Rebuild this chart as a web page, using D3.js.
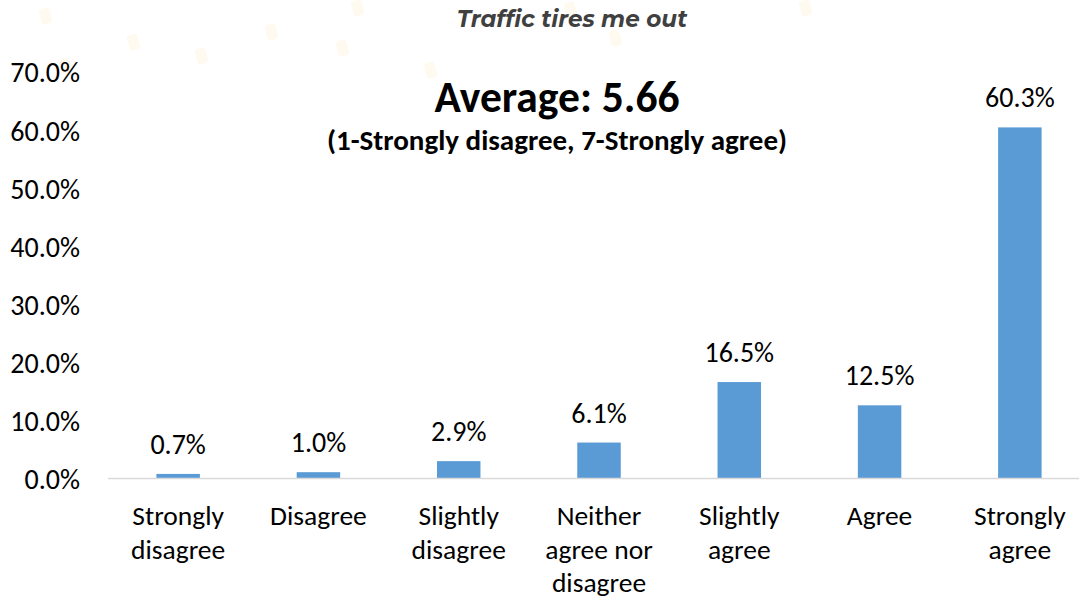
<!DOCTYPE html>
<html><head><meta charset="utf-8">
<script src="https://cdn.jsdelivr.net/npm/d3@7"></script>
<style>body{margin:0;background:#fff;}svg{display:block;}</style>
</head><body>
<svg id="c" width="1079" height="600"></svg>
<script>
const categories = [["Strongly","disagree"],["Disagree"],["Slightly","disagree"],["Neither","agree nor","disagree"],["Slightly","agree"],["Agree"],["Strongly","agree"]];
const values = [0.007, 0.010, 0.029, 0.061, 0.165, 0.125, 0.603];
const yTicks = [0, 0.1, 0.2, 0.3, 0.4, 0.5, 0.6, 0.7];
const title = "Traffic tires me out";
const avgText = "Average: 5.66";
const scaleText = "(1-Strongly disagree, 7-Strongly agree)";

const svg = d3.select("#c");
const F = "Carlito, Lato, 'Open Sans', sans-serif";

// faint decorative background dots
const deco = [[40,8],[128,34],[196,48],[266,24],[337,40],[425,62],[60,58],[352,0],[610,30],[565,2],[800,0]];
svg.selectAll("rect.deco").data(deco).enter().append("rect")
  .attr("x",d=>d[0]).attr("y",d=>d[1]).attr("width",11).attr("height",16).attr("rx",4)
  .attr("fill","#fffaf0").attr("transform",d=>`rotate(-15,${d[0]+6},${d[1]+8})`);

const x = d3.scaleBand().domain(d3.range(values.length)).range([108,1090]).paddingInner(0.69).paddingOuter(0.345);
const y = d3.scaleLinear().domain([0,0.7]).range([478,71]);

// y axis labels
const yAxis = d3.axisLeft(y).tickValues(yTicks).tickFormat(d3.format(".1%")).tickSize(0).tickPadding(0);
const ga = svg.append("g").attr("transform","translate(80,2)").call(yAxis);
ga.select(".domain").remove();
ga.selectAll("text").attr("font-family",F).attr("font-size",28).attr("fill","#000");

// bars
svg.selectAll("rect.bar").data(values).enter().append("rect").attr("class","bar")
  .attr("x",(d,i)=>x(i)).attr("width",x.bandwidth())
  .attr("y",d=>y(d)).attr("height",d=>y(0)-y(d)).attr("fill","#5b9bd5");

// baseline
svg.append("line").attr("x1",108).attr("x2",1079).attr("y1",y(0)+0.5).attr("y2",y(0)+0.5)
  .attr("stroke","#d9d9d9").attr("stroke-width",1.5);

// value labels
svg.selectAll("text.val").data(values).enter().append("text")
  .attr("x",(d,i)=>x(i)+x.bandwidth()/2).attr("y",d=>y(d)-20)
  .attr("text-anchor","middle").attr("font-family",F).attr("font-size",28).attr("fill","#000")
  .text(d=>d3.format(".1%")(d));

// category labels
const cg = svg.selectAll("text.cat").data(categories).enter().append("text")
  .attr("text-anchor","middle").attr("font-family",F).attr("font-size",27.5).attr("fill","#000");
cg.selectAll("tspan").data((d,i)=>d.map(s=>({s,i}))).enter().append("tspan")
  .attr("x",d=>x(d.i)+x.bandwidth()/2).attr("y",(d,j)=>525+j*33.5).text(d=>d.s);

// titles
svg.append("text").attr("x",572).attr("y",27).attr("text-anchor","middle")
  .attr("font-family","Montserrat, 'Open Sans', sans-serif").attr("font-style","italic").attr("font-weight",700)
  .attr("font-size",23).attr("fill","#404040").text(title);
svg.append("text").attr("x",557).attr("y",112).attr("text-anchor","middle")
  .attr("font-family",F).attr("font-weight",700).attr("font-size",43.5).attr("fill","#000").text(avgText);
svg.append("text").attr("x",557).attr("y",150).attr("text-anchor","middle")
  .attr("font-family",F).attr("font-weight",700).attr("font-size",29).attr("fill","#000").text(scaleText);
</script>
</body></html>
